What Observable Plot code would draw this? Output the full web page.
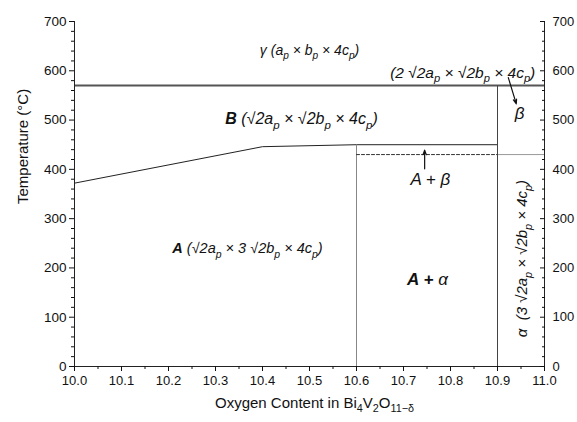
<!DOCTYPE html>
<html>
<head>
<meta charset="utf-8">
<script src="https://cdn.jsdelivr.net/npm/d3@7"></script>
<script src="https://cdn.jsdelivr.net/npm/@observablehq/plot@0.6"></script>
<style>
  html, body { margin: 0; padding: 0; background: #fff; }
  #chart svg { font-family: "Liberation Sans", Arial, sans-serif; color: #111; background: #fff; }
</style>
</head>
<body>
<div id="chart"></div>
<script>
// ---- axes ----
const xDomain = [10.0, 11.0];
const yDomain = [0, 700];
const xTicks = [10.0, 10.1, 10.2, 10.3, 10.4, 10.5, 10.6, 10.7, 10.8, 10.9, 11.0];
const xMinor = [10.05, 10.15, 10.25, 10.35, 10.45, 10.55, 10.65, 10.75, 10.85, 10.95];
const yTicks = [0, 100, 200, 300, 400, 500, 600, 700];
const yMinor = d3.range(0, 701, 20).filter(v => v % 100 !== 0);
const xTitle = "Oxygen Content in Bi_4V_2O_{11−δ}";
const yTitle = "Temperature (°C)";

// ---- phase boundaries ----
const abX = [10.0, 10.4, 10.6, 10.9];          // A / B boundary
const abT = [372, 446, 450, 450];
const gammaT = 570;                             // B / γ transition
const segX1 = [10.6, 10.9, 10.9];               // vertical phase limits & β line
const segY1 = [0, 0, 430];
const segX2 = [10.6, 10.9, 11.0];
const segY2 = [450, 570, 430];
const dashX = [10.6, 10.9];                     // dashed A+β line
const dashT = [430, 430];

// ---- arrows ----
const arrX1 = [10.745, 10.923];
const arrT1 = [401, 586];
const arrX2 = [10.745, 10.940];
const arrT2 = [439, 533];

// ---- region labels ----
const labelX = [10.5, 10.826, 10.483, 10.947, 10.757, 10.368, 10.751];
const labelT = [641, 596, 503, 513, 379, 239, 176];
const labelText = [
  "γ (a_p × b_p × 4c_p)",
  "(2 √2a_p × √2b_p × 4c_p)",
  "**B** (√2a_p × √2b_p × 4c_p)",
  "β",
  "A + β",
  "**A** (√2a_p × 3 √2b_p × 4c_p)",
  "**A + **α"
];
const alphaX = [10.953];
const alphaT = [219];
const alphaText = ["α  (3 √2a_p × √2b_p × 4c_p)"];

// styles (kept apart from the data)
const labelSize = [14, 15.5, 16, 17, 17, 14.5, 17];
const segStroke = ["#888", "#444", "#999"];

const labels = labelX.map((x, i) => ({x, t: labelT[i], text: labelText[i], i}));
const alphaLab = alphaX.map((x, i) => ({x, t: alphaT[i], text: alphaText[i]}));
const ab = abX.map((x, i) => ({x, t: abT[i]}));
const segs = segX1.map((x1, i) => ({x1, y1: segY1[i], x2: segX2[i], y2: segY2[i]}));
const arrows = arrX1.map((x1, i) => ({x1, y1: arrT1[i], x2: arrX2[i], y2: arrT2[i]}));
const dash = dashX.map((x, i) => ({x, t: dashT[i]}));

const plot = Plot.plot({
  width: 577,
  height: 422,
  marginLeft: 74,
  marginRight: 33,
  marginTop: 21,
  marginBottom: 56,
  x: {domain: xDomain, axis: null},
  y: {domain: yDomain, axis: null},
  marks: [
    // phase lines
    Plot.line(ab, {x: "x", y: "t", stroke: "#222", strokeWidth: 1}),
    Plot.ruleY([gammaT], {x1: xDomain[0], x2: xDomain[1], stroke: "#555", strokeWidth: 2}),
    Plot.link(segs, {x1: "x1", y1: "y1", x2: "x2", y2: "y2", stroke: (d, i) => segStroke[i], strokeWidth: 1}),
    Plot.line(dash, {x: "x", y: "t", stroke: "#333", strokeWidth: 1, strokeDasharray: "3,2"}),
    Plot.arrow(arrows, {x1: "x1", y1: "y1", x2: "x2", y2: "y2", stroke: "#111", strokeWidth: 1.2, headLength: 6, headAngle: 40}),
    // frame lines
    Plot.ruleX(xDomain, {stroke: "#222"}),
    Plot.ruleY([yDomain[0]], {stroke: "#222"}),
    // axes
    Plot.axisX({ticks: xTicks, tickSize: 5, tickPadding: 4, tickFormat: d => d.toFixed(1), fontSize: 13, label: null}),
    Plot.axisX({ticks: xMinor, tickSize: 3, tickFormat: () => "", label: null}),
    Plot.axisY({anchor: "left", ticks: yTicks, tickSize: 5, tickPadding: 3, fontSize: 13.5, label: null}),
    Plot.axisY({anchor: "left", ticks: yMinor, tickSize: 3, tickFormat: () => "", label: null}),
    Plot.axisY({anchor: "right", ticks: yTicks, tickSize: -5, tickPadding: 13, fontSize: 13, label: null, textAnchor: "start"}),
    Plot.axisY({anchor: "right", ticks: yMinor, tickSize: -3, tickFormat: () => "", label: null}),
    // titles
    Plot.text([yTitle], {frameAnchor: "left", dx: -51, dy: 10, rotate: -90, fontSize: 15, fill: "#111"}),
    Plot.text([xTitle], {frameAnchor: "bottom", dx: 5, dy: 41, fontSize: 15, fill: "#111"}),
    // region labels
    Plot.text(labels, {x: "x", y: "t", text: "text", fontSize: d => labelSize[d.i], fontStyle: "italic", fill: "#111"}),
    Plot.text(alphaLab, {x: "x", y: "t", text: "text", rotate: -90, fontSize: 15, fontStyle: "italic", fill: "#111"})
  ]
});

document.getElementById("chart").appendChild(plot);

// rich text: **bold**, _x / _{xx} subscripts
function richify(el) {
  const src = el.textContent;
  const fs = parseFloat(getComputedStyle(el).fontSize) || 14;
  const shift = fs * 0.3;
  el.textContent = "";
  let bold = false, cur = 0, m;
  const re = /\*\*|_\{([^}]*)\}|_(.)|([^*_]+)/g;
  const add = (txt, sub) => {
    const t = document.createElementNS("http://www.w3.org/2000/svg", "tspan");
    const target = sub ? shift : 0;
    if (target !== cur) t.setAttribute("dy", target - cur);
    cur = target;
    if (sub) t.setAttribute("font-size", "72%");
    if (bold) t.setAttribute("font-weight", "bold");
    t.textContent = txt;
    el.appendChild(t);
  };
  while ((m = re.exec(src))) {
    if (m[0] === "**") bold = !bold;
    else if (m[1] !== undefined) add(m[1], true);
    else if (m[2] !== undefined) add(m[2], true);
    else add(m[3], false);
  }
}
plot.querySelectorAll("text").forEach(el => {
  if (/\*\*|_/.test(el.textContent)) richify(el);
});
</script>
</body>
</html>
